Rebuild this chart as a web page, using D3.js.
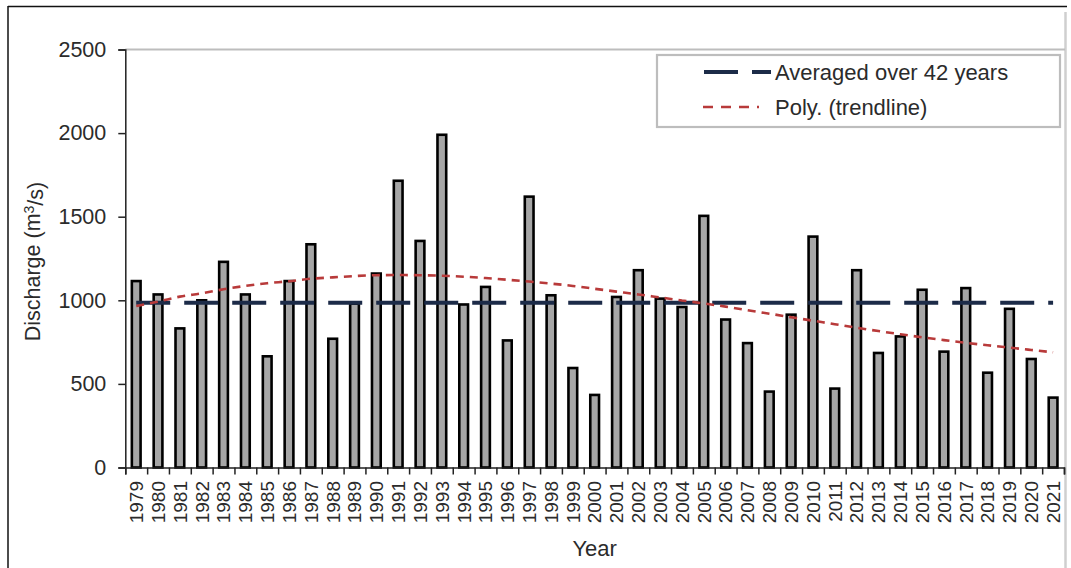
<!DOCTYPE html>
<html>
<head>
<meta charset="utf-8">
<script src="https://cdn.jsdelivr.net/npm/d3@7"></script>
<style>
  html, body { margin: 0; padding: 0; background: #fff; }
  svg { display: block; }
  text { font-family: "Liberation Sans", Arial, sans-serif; fill: #2b2b2b; }
</style>
</head>
<body>
<svg id="chart" width="1071" height="568"></svg>
<script>
// ---- data ----
const years = ["1979","1980","1981","1982","1983","1984","1985","1986","1987","1988",
  "1989","1990","1991","1992","1993","1994","1995","1996","1997","1998",
  "1999","2000","2001","2002","2003","2004","2005","2006","2007","2008",
  "2009","2010","2011","2012","2013","2014","2015","2016","2017","2018",
  "2019","2020","2021"];
const discharge = [1115,1035,832,1000,1230,1035,665,1115,1335,770,
  980,1160,1715,1355,1990,975,1080,760,1620,1030,
  595,434,1020,1180,1010,960,1505,885,744,454,
  914,1381,472,1180,685,784,1063,693,1073,567,
  949,649,418];
const trend = [966,992,1022,1042,1066,1086,1102,1114,1129,1137,
  1145,1150,1151,1150,1147,1141,1133,1123,1112,1100,
  1086,1069,1052,1035,1017,999,981,962,941,920,
  899,878,857,836,816,797,779,762,746,731,
  717,703,689];
const averageValue = 985;
const yTicks = [0,500,1000,1500,2000,2500];
const legendLabels = ["Averaged over 42 years", "Poly. (trendline)"];
const yTitle = "Discharge (m";
const xTitle = "Year";

// ---- layout ----
const svg = d3.select("#chart");
const pLeft = 125.3, pRight = 1064, pTop = 49.5, pBottom = 467.5;
const navy = "#1c2b48", red = "#b83a3a";

const x = d3.scaleBand().domain(years).range([pLeft, pRight]).paddingInner(0).paddingOuter(0);
const y = d3.scaleLinear().domain([0, 2500]).range([pBottom, pTop]);

// outer frame
svg.append("line").attr("x1", 8).attr("x2", 8).attr("y1", 6).attr("y2", 568)
  .attr("stroke", "#111").attr("stroke-width", 1.5);
svg.append("line").attr("x1", 8).attr("x2", 1067).attr("y1", 6.5).attr("y2", 6.5)
  .attr("stroke", "#111").attr("stroke-width", 1.5);
svg.append("line").attr("x1", 1065.5).attr("x2", 1065.5).attr("y1", 12).attr("y2", 568)
  .attr("stroke", "#cfcfcf").attr("stroke-width", 2.5);
// plot area top border
svg.append("line").attr("x1", pLeft).attr("x2", pRight + 1).attr("y1", pTop).attr("y2", pTop)
  .attr("stroke", "#bdbdbd").attr("stroke-width", 2);

// bars
const bw = x.bandwidth() * 0.4;
svg.append("g").selectAll("rect").data(discharge).join("rect")
  .attr("x", (d, i) => x(years[i]) + x.bandwidth() / 2 - bw / 2)
  .attr("y", d => y(d))
  .attr("width", bw)
  .attr("height", d => y(0) - y(d))
  .attr("fill", "#a6a6a6")
  .attr("stroke", "#000")
  .attr("stroke-width", 2.6);

// average line
const cx = d => x(d) + x.bandwidth() / 2;
svg.append("path")
  .datum(years)
  .attr("d", d3.line().x(d => cx(d)).y(() => y(averageValue)))
  .attr("fill", "none").attr("stroke", navy).attr("stroke-width", 4)
  .attr("stroke-dasharray", "34,14");

// trendline
svg.append("path")
  .datum(trend)
  .attr("d", d3.line().x((d, i) => cx(years[i])).y(d => y(d)).curve(d3.curveMonotoneX))
  .attr("fill", "none").attr("stroke", red).attr("stroke-width", 2.6)
  .attr("stroke-dasharray", "8,6");

// y axis
const yAxis = svg.append("g").attr("transform", `translate(${pLeft},0)`)
  .call(d3.axisLeft(y).tickValues(yTicks).tickSize(7).tickPadding(12).tickFormat(d3.format("d")));
yAxis.selectAll("text").style("font-size", "21.5px").style("fill", "#2b2b2b");
yAxis.selectAll("line").attr("stroke", "#222").attr("stroke-width", 1.5);
yAxis.select(".domain").attr("stroke", "#222").attr("stroke-width", 1.5);

// x axis: boundary ticks
const xb = d3.scaleLinear().domain([0, years.length]).range([pLeft, pRight]);
const xTickAxis = svg.append("g").attr("transform", `translate(0,${pBottom})`)
  .call(d3.axisBottom(xb).tickValues(d3.range(years.length + 1)).tickSize(7).tickFormat(""));
xTickAxis.selectAll("line").attr("stroke", "#222").attr("stroke-width", 1.5);
xTickAxis.select(".domain").attr("stroke", "#222").attr("stroke-width", 1.5);

// x axis labels
const xLab = svg.append("g").attr("transform", `translate(0,${pBottom})`)
  .call(d3.axisBottom(x).tickSize(0).tickPadding(0));
xLab.select(".domain").remove();
xLab.selectAll("text")
  .attr("transform", "rotate(-90)")
  .attr("text-anchor", "end")
  .attr("x", -13.5)
  .attr("y", 0)
  .attr("dy", "0.36em")
  .style("font-size", "19px")
  .style("fill", "#2b2b2b");

// axis titles
const yt = svg.append("text")
  .attr("transform", `translate(40,${(pTop + pBottom) / 2 + 3}) rotate(-90)`)
  .attr("text-anchor", "middle")
  .style("font-size", "21.5px");
yt.append("tspan").text(yTitle);
yt.append("tspan").text("3").attr("dy", "-0.45em").style("font-size", "14px");
yt.append("tspan").text("/s)").attr("dy", "0.45em");

svg.append("text")
  .attr("x", (pLeft + pRight) / 2).attr("y", 556)
  .attr("text-anchor", "middle")
  .style("font-size", "22px")
  .text(xTitle);

// legend
const lg = svg.append("g");
lg.append("rect").attr("x", 657).attr("y", 55).attr("width", 403).attr("height", 72)
  .attr("fill", "#fff").attr("stroke", "#bdbdbd").attr("stroke-width", 2.2);
lg.append("line").attr("x1", 704).attr("x2", 771).attr("y1", 72).attr("y2", 72)
  .attr("stroke", navy).attr("stroke-width", 4).attr("stroke-dasharray", "34,14");
lg.append("line").attr("x1", 703).attr("x2", 759).attr("y1", 107).attr("y2", 107)
  .attr("stroke", red).attr("stroke-width", 2.6).attr("stroke-dasharray", "10,8");
lg.selectAll("text.lt").data(legendLabels).join("text")
  .attr("class", "lt")
  .attr("x", 775)
  .attr("y", (d, i) => 80 + i * 35)
  .style("font-size", "22px")
  .text(d => d);
</script>
</body>
</html>
